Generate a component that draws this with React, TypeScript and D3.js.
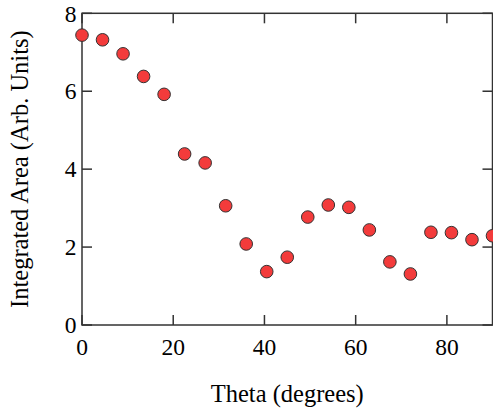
import React from "react";
import * as d3 from "d3";

const thetaValues = [0, 4.5, 9, 13.5, 18, 22.5, 27, 31.5, 36, 40.5, 45, 49.5, 54, 58.5, 63, 67.5, 72, 76.5, 81, 85.5, 90];
const areaValues = [7.44, 7.32, 6.96, 6.38, 5.92, 4.39, 4.16, 3.06, 2.08, 1.37, 1.74, 2.77, 3.08, 3.02, 2.44, 1.62, 1.31, 2.38, 2.37, 2.19, 2.29];
const xTicks = [0, 20, 40, 60, 80];
const yTicks = [0, 2, 4, 6, 8];

const W = 493;
const H = 412;
const left = 82;
const right = 492.5;
const top = 13.3;
const bottom = 325;
const axisColor = "#333";
const font = "Liberation Serif, Times New Roman, serif";

export default function App() {
  const x = d3.scaleLinear().domain([0, 90]).range([left, right]);
  const y = d3.scaleLinear().domain([0, 8]).range([bottom, top]);
  const tickLen = 10;
  const tickStyle = { fontFamily: font, fontSize: "23.5px" };
  const titleStyle = { fontFamily: font, fontSize: "24.5px" };
  return (
    <svg width={W} height={H} style={{ position: "absolute", left: 0, top: 0, background: "#fff" }}>
      <rect x={left} y={top} width={right - left} height={bottom - top} fill="none" stroke={axisColor} strokeWidth={1.5} />
      {xTicks.map((t) => (
        <g key={"x" + t}>
          <line x1={x(t)} x2={x(t)} y1={bottom} y2={bottom - tickLen} stroke={axisColor} strokeWidth={1.5} />
          <line x1={x(t)} x2={x(t)} y1={top} y2={top + tickLen} stroke={axisColor} strokeWidth={1.5} />
          <text x={x(t)} y={354.5} textAnchor="middle" style={tickStyle} fill="#000">{t}</text>
        </g>
      ))}
      {yTicks.map((t) => (
        <g key={"y" + t}>
          <line x1={left} x2={left + tickLen} y1={y(t)} y2={y(t)} stroke={axisColor} strokeWidth={1.5} />
          <line x1={right} x2={right - tickLen} y1={y(t)} y2={y(t)} stroke={axisColor} strokeWidth={1.5} />
          <text x={76.5} y={y(t) + 8.2} textAnchor="end" style={tickStyle} fill="#000">{t}</text>
        </g>
      ))}
      {thetaValues.map((t, i) => (
        <circle key={i} cx={x(t)} cy={y(areaValues[i])} r={6.3} fill="#f33b3b" stroke="#333" strokeWidth={1} />
      ))}
      <text x={(left + right) / 2} y={401.5} textAnchor="middle" style={titleStyle} fill="#000">Theta (degrees)</text>
      <text transform={`translate(28, ${(top + bottom) / 2}) rotate(-90)`} textAnchor="middle" style={titleStyle} fill="#000">Integrated Area (Arb. Units)</text>
    </svg>
  );
}
